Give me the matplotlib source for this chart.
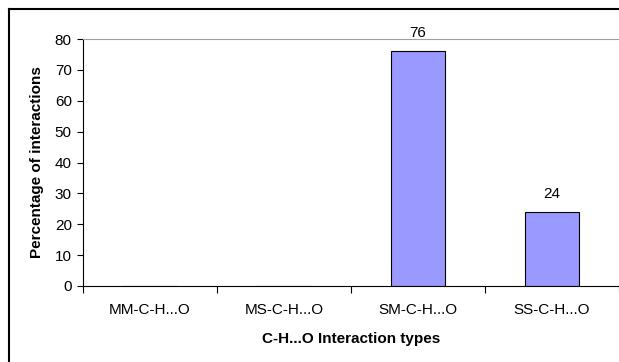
import matplotlib.pyplot as plt
from matplotlib.lines import Line2D

categories = ['MM-C-H...O', 'MS-C-H...O', 'SM-C-H...O', 'SS-C-H...O']
values = [0, 0, 76, 24]

plt.rcParams['font.family'] = ['Liberation Sans', 'DejaVu Sans']

fig = plt.figure(figsize=(6.19, 3.62), dpi=100)
ax = fig.add_axes([0.134, 0.21, 0.866, 0.682])

x = range(len(categories))
bars = ax.bar(x, values, width=0.41, color='#9999FF', edgecolor='black', linewidth=0.8)
for b, v in zip(bars, values):
    if v > 0:
        ax.annotate(str(v), (b.get_x() + b.get_width() / 2, v), xytext=(0, 13),
                    textcoords='offset points', ha='center', va='center', fontsize=11)

ax.set_xlim(-0.5, len(categories) - 0.5)
ax.set_ylim(0, 80)
ax.set_yticks(range(0, 81, 10))
ax.set_xticks(x)
ax.set_xticklabels(categories, fontsize=11)
ax.set_xticks([i - 0.5 for i in range(len(categories) + 1)], minor=True)
ax.tick_params(axis='x', which='major', length=0, pad=12)
ax.tick_params(axis='x', which='minor', length=5, width=0.8, direction='out')
ax.tick_params(axis='y', length=4, width=0.8, labelsize=11, pad=4)

ax.spines['right'].set_visible(False)
ax.spines['top'].set_color('#a0a0a0')
ax.spines['left'].set_linewidth(0.8)
ax.spines['bottom'].set_linewidth(0.8)

ax.set_xlabel('C-H...O Interaction types', fontsize=11, fontweight='bold', labelpad=11)
ax.set_ylabel('Percentage of interactions', fontsize=11, fontweight='bold', labelpad=8)

# outer chart border (left and top only visible)
fig.add_artist(Line2D([0.0145, 0.0145], [0.0, 0.975], transform=fig.transFigure, color='black', linewidth=1.5))
fig.add_artist(Line2D([0.0145, 1.0], [0.975, 0.975], transform=fig.transFigure, color='black', linewidth=1.5))

fig.savefig('out.png', dpi=100)
